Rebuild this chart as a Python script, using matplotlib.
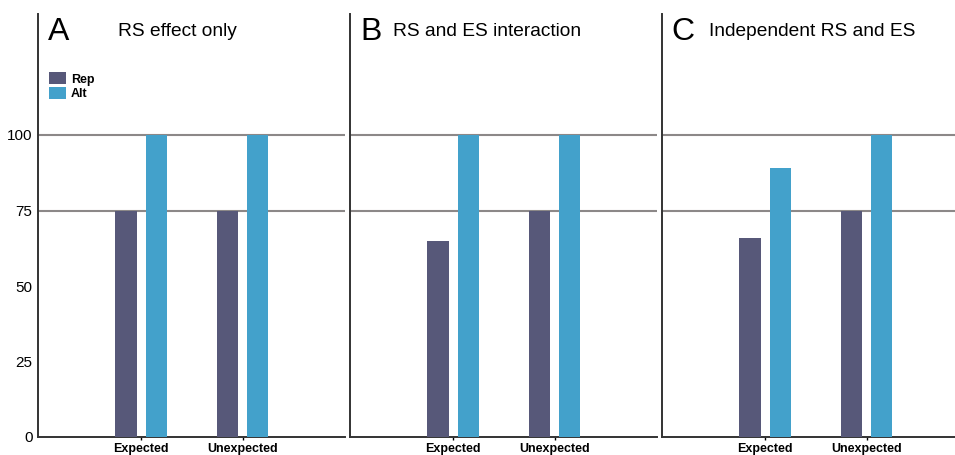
import matplotlib.pyplot as plt

# -----------------------------------------------------------------------------
# DATA
# -----------------------------------------------------------------------------
categories = ["Expected", "Unexpected"]
panel_letters = ["A", "B", "C"]
panel_titles = ["RS effect only", "RS and ES interaction", "Independent RS and ES"]
rep_values = [[75, 75], [65, 75], [66, 75]]
alt_values = [[100, 100], [100, 100], [89, 100]]
y_ticks = [0, 25, 50, 75, 100]
ref_lines = [75, 100]

REP_COLOR = "#575879"
ALT_COLOR = "#43a1cb"

plt.rcParams["font.family"] = ["Liberation Sans", "DejaVu Sans"]

fig = plt.figure(figsize=(9.55, 4.55), dpi=100)
W, H = 955.0, 455.0
# axes boxes in pixels: (left, right), plus text offsets from the left axis
boxes = [(38, 345), (350, 657), (662, 955)]
letter_off = [10, 10, 9]
title_off = [80, 43, 47]
bottom_px, top_px = 437, 14
px_per_cat = 101.5

for i, (left, right) in enumerate(boxes):
    wpx = right - left
    hpx = bottom_px - top_px
    ax = fig.add_axes([left / W, 1 - bottom_px / H, wpx / W, hpx / H])
    x = list(range(len(categories)))
    off, width = 0.148, 0.207
    ax.bar([v - off for v in x], rep_values[i], width, color=REP_COLOR,
           zorder=3, label="Rep")
    ax.bar([v + off for v in x], alt_values[i], width, color=ALT_COLOR,
           zorder=3, label="Alt")
    for y in ref_lines:
        ax.axhline(y, color="#8c8888", linewidth=1.5, zorder=1)

    ax.set_xlim(-1.015, -1.015 + wpx / px_per_cat)
    ax.set_ylim(0, hpx / 3.02)
    ax.set_xticks(x)
    ax.set_xticklabels(categories, fontsize=9, fontweight="bold")
    ax.tick_params(axis="x", length=2, width=1, pad=2)
    for s in ["top", "right"]:
        ax.spines[s].set_visible(False)
    for s in ["left", "bottom"]:
        ax.spines[s].set_linewidth(1.4)
        ax.spines[s].set_color("#333333")
    if i == 0:
        ax.set_yticks(y_ticks)
        ax.set_yticklabels([str(t) for t in y_ticks], fontsize=11)
        ax.tick_params(axis="y", length=0, pad=4)
        ax.legend(loc="upper left", bbox_to_anchor=(0.01, 0.88), frameon=False,
                  prop={"weight": "bold", "size": 9}, handlelength=1.4,
                  handleheight=1.1, handletextpad=0.4, labelspacing=0.1,
                  borderaxespad=0.2)
    else:
        ax.set_yticks([])

    ax.text(letter_off[i] / wpx, (bottom_px - 40) / hpx, panel_letters[i],
            transform=ax.transAxes, fontsize=23, va="baseline", ha="left")
    ax.text(title_off[i] / wpx, (bottom_px - 36) / hpx, panel_titles[i],
            transform=ax.transAxes, fontsize=13.8, va="baseline", ha="left")

fig.savefig("out.png", dpi=100)
